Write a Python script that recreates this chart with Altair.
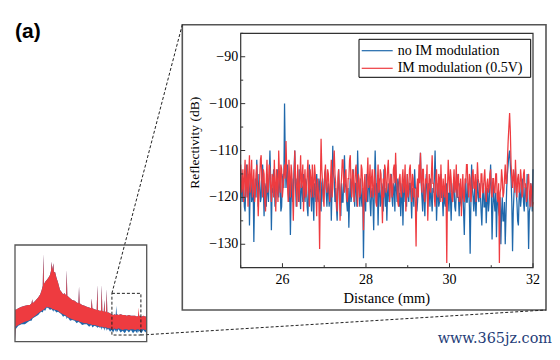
import altair as alt
import pandas as pd

# ---------------- data ----------------
DIST_START = 25.0
DIST_STEP = 0.0175

no_im = [
    -114, -118, -121, -116, -117, -122, -123, -117, -113, -120, -119, -115, -126, -118, -115, -121, -120, -117, -129.5, -119,
    -116, -120, -112, -117, -122, -115, -117, -121, -120, -114, -113, -118, -124, -117, -118, -122, -115, -119, -121, -116,
    -110, -116, -127, -118, -119, -114, -116, -122, -121, -117, -114, -119, -120, -115, -117, -123, -122, -116, -115, -118,
    -100, -112, -118, -115, -113, -119, -121, -117, -128, -120, -116, -121, -119, -114, -110, -117, -122, -116, -117, -121,
    -114, -119, -122.5, -117, -118, -121, -115, -119, -121, -116, -117, -122, -124, -118, -113, -118, -119, -123, -116, -120,
    -125, -117, -118, -121, -115, -120, -121, -116, -117, -122, -123, -117, -116, -121, -119, -115, -114, -119, -122, -118,
    -117, -122, -120, -117, -125, -118, -109, -115, -116, -121, -118, -122, -125, -119, -114, -118, -120, -124, -117, -121,
    -121, -116, -111, -117, -118, -121, -123, -118, -126.5, -120, -116, -121, -119, -116, -114, -119, -122, -117, -117, -122,
    -110, -116, -119, -122, -116, -120, -122, -118, -133, -121, -118, -123, -115, -120, -121, -116, -117, -121, -124, -119,
    -118, -121, -127, -117, -110, -116, -120, -117, -126, -119, -116, -122, -121, -117, -118, -123, -114, -119, -122, -118,
    -125, -119, -117, -121, -120, -116, -115, -120, -122, -117, -118, -123, -113, -118, -121, -116, -117, -122, -119, -124,
    -120, -117, -126, -119, -116, -121, -118, -122, -115, -119, -121, -117, -117, -120, -124.5, -118, -119, -122, -114, -118,
    -118, -123, -121, -117, -116, -114, -110.5, -117, -120, -123, -117, -120, -124, -118, -115, -119, -122, -117, -118, -122,
    -116, -120, -123, -118, -119, -116, -110, -117, -125, -120, -117, -122, -121, -117, -115, -120, -120, -124, -118, -121,
    -122, -118, -117, -121, -119, -123, -116, -120, -125, -119, -121, -117, -118, -122, -123, -119, -115, -120, -120, -124,
    -117, -121, -122, -118, -119, -123, -128, -120, -116, -121, -121, -117, -118, -122, -132, -121, -113, -118, -120, -123,
    -118, -121, -124, -119, -116, -120, -121, -117, -119, -123, -126, -120, -117, -122, -122, -118, -125.5, -121, -118, -123,
    -121, -117, -113, -119, -129, -122, -117, -121, -123, -119, -128.5, -121, -119, -123, -124, -120, -130, -123, -120, -125,
    -125, -121, -130, -124, -118, -115, -113, -111, -110, -113, -116, -121, -131.5, -123, -119, -116, -114, -119, -121, -125,
    -126, -120, -117, -122, -120, -117, -116, -121, -123, -118, -118, -122, -115, -121, -131, -123, -122, -117, -119, -123,
    -114,
]

im_05v = [
    -113, -119, -118, -114, -121, -116, -112, -120, -117, -113, -122, -115, -111, -119, -116, -112, -120, -117, -114, -121,
    -119, -115, -113, -118, -124, -119, -116, -112, -111, -117, -120, -114, -115, -121, -123, -116, -112, -119, -118, -113,
    -114, -118, -121, -115, -116, -120, -112, -117, -123, -114, -117, -121, -110, -115, -119, -113, -114, -120, -118, -115,
    -113, -116, -108, -114, -117, -121, -112, -116, -120, -113, -115, -119, -125, -117, -110, -115, -118, -122, -113, -117,
    -121, -116, -111, -118, -116, -113, -123, -117, -114, -120, -119, -115, -112, -118, -122, -114, -116, -120, -113, -117,
    -120, -113, -115, -119, -124, -116, -118, -121, -131, -117, -107.5, -114, -117, -120, -122, -115, -113, -118, -119, -114,
    -115, -119, -121, -116, -112, -120, -118, -113, -110, -115, -117, -121, -123, -116, -114, -119, -125, -118, -116, -112,
    -112, -117, -119, -115, -114, -120, -121, -116, -116, -112, -111, -118, -120, -114, -115, -121, -118, -114, -113, -119,
    -122, -115, -116, -120, -119, -113, -114, -118, -127, -117, -115, -120, -121, -116, -111.5, -118, -117, -113, -120, -116,
    -114, -120, -119, -114, -116, -121, -122, -117, -113, -119, -118, -114, -115, -120, -125.5, -116, -120, -113, -114, -119,
    -118, -114, -112, -117, -121, -115, -116, -120, -119, -114, -113, -117, -110.5, -116, -118, -121, -122, -116, -115, -119,
    -120, -116, -114, -119, -117, -113, -123, -118, -115, -120, -119, -114, -113, -117, -121, -115, -116, -120, -118, -121,
    -130.5, -118, -116, -120, -113, -117, -110.5, -116, -119, -114, -114, -120, -121, -116, -117, -113, -125, -119, -115, -118,
    -119, -115, -111, -117, -117, -120, -122, -116, -114, -119, -120, -115, -116, -121, -113, -118, -121, -116, -118, -120,
    -115, -119, -134, -118, -112, -116, -119, -114, -116, -120, -121, -117, -114, -119, -118, -113, -120, -116, -115, -121,
    -119, -116, -124, -118, -115, -120, -121, -116, -117, -113, -113, -118, -120, -115, -116, -121, -119, -115, -114, -118,
    -118, -115, -121, -117, -112.5, -116, -117, -120, -120, -115, -115, -119, -119, -116, -114, -118, -121, -117, -116, -119,
    -118, -115, -114, -119, -120, -116, -116, -119, -119, -115, -115, -120, -121, -117, -134, -119, -118, -114, -116, -120,
    -119, -116, -113, -117, -117, -112, -108, -105, -102, -106, -113, -116, -118, -114, -116, -119, -112, -117, -120, -116,
    -115, -119, -118, -114, -116, -120, -119, -115, -114, -118, -117, -121, -120, -116, -115, -119, -122, -117, -118, -122,
    -121,
]

series_names = ["no IM modulation", "IM modulation (0.5V)"]
series_colors = ["#1f68ab", "#ee3b40"]

x_major = [26, 28, 30, 32]
x_minor = [25, 27, 29, 31]
y_major = [-90, -100, -110, -120, -130]
y_minor = [-85, -95, -105, -115, -125, -135]
x_title = "Distance (mm)"
y_title = "Reflectivity (dB)"

# overview (full trace) envelopes
ov_x = [1.6, 1.75, 2.4, 3.2, 4.0, 4.8, 5.2, 5.6, 5.75, 5.9, 6.5, 7.2, 7.7, 8.05, 8.3, 8.44, 8.58,
        8.9, 9.26, 9.7, 10.05, 10.3, 10.46, 10.62, 10.85, 11.0, 11.26, 11.6, 11.99, 12.47,
        12.8, 13.2, 13.6, 13.95, 14.09, 14.23, 14.5, 14.9, 15.4, 16.0, 16.5, 16.92, 17.06,
        17.2, 17.8, 18.4, 18.92, 19.5, 19.98, 20.13, 20.28, 20.8, 21.33, 21.48, 21.62, 22.0,
        22.4, 22.54, 22.68, 23.03, 23.17, 23.31, 23.61, 23.75, 23.89, 24.2, 24.55, 24.9,
        25.3, 25.7, 25.91, 26.05, 26.19, 26.6, 27.1, 27.6, 28.1, 28.6, 29.1, 29.6, 30.1,
        30.6, 31.1, 31.31, 31.45, 31.59, 32.1, 32.6, 33.1, 33.3]
ov_red_hi = [-104, -105, -103, -101, -100, -99, -99, -97, -92, -97, -94, -90, -86, -81, -76, -38, -74,
             -71, -69, -66, -63, -58, -47, -57, -49, -60, -59, -66, -72, -81,
             -83, -86, -85, -88, -57, -88, -89, -91, -93, -94, -96, -97, -77,
             -97, -99, -100, -101, -102, -103, -91, -103, -104, -105, -75, -105, -106,
             -106, -75, -106, -107, -93, -107, -107, -80, -108, -108, -109, -110,
             -111, -110, -111, -111, -110, -111, -110, -111, -111, -112, -111, -112, -112,
             -112, -113, -112, -102, -112, -113, -112, -113, -112]
ov_red_lo = [-141, -125, -123, -121, -119, -118, -117, -115, -115, -114, -112, -109, -107, -106, -105, -105, -104,
             -103, -101, -102, -102, -103, -103, -104, -104, -104, -105, -105, -106, -108,
             -109, -110, -111, -112, -113, -113, -114, -115, -116, -117, -118, -118, -119,
             -119, -120, -121, -121, -122, -122, -123, -123, -123, -124, -124, -124, -125,
             -125, -125, -125, -126, -126, -126, -126, -126, -127, -127, -127, -128,
             -128, -127, -128, -128, -128, -127, -128, -129, -128, -128, -129, -128, -128,
             -129, -128, -128, -128, -129, -128, -128, -129, -128]
ov_blue_hi = [-104, -105, -103, -101, -100, -99, -99, -97, -92, -97, -94, -90, -86, -81, -76, -38, -74,
              -71, -69, -66, -63, -58, -47, -57, -49, -60, -59, -66, -72, -81,
              -83, -86, -85, -88, -57, -88, -89, -91, -93, -94, -96, -97, -77,
              -97, -99, -100, -101, -102, -103, -91, -103, -104, -105, -75, -105, -106,
              -106, -75, -106, -107, -93, -107, -107, -80, -108, -108, -109, -110,
              -111, -110, -111, -100, -110, -111, -110, -111, -111, -112, -111, -112, -112,
              -112, -113, -112, -109, -112, -113, -112, -113, -112]
ov_blue_lo = [-141, -128, -124, -122, -122, -119, -118, -118, -116, -115, -113, -111, -108, -107, -108, -106, -105,
              -106, -102, -103, -105, -104, -104, -105, -107, -105, -106, -108, -107, -109,
              -110, -113, -112, -113, -116, -114, -115, -118, -117, -118, -121, -119, -120,
              -120, -123, -122, -122, -125, -123, -124, -126, -124, -125, -127, -125, -126,
              -126, -129, -126, -127, -130, -127, -127, -130, -128, -128, -131, -129,
              -132, -128, -131, -129, -132, -128, -132, -130, -133, -129, -132, -129, -133,
              -130, -133, -129, -132, -130, -133, -129, -132, -130]

# ---------------- layout ----------------
W, H = 544, 344
SERIF = "Liberation Serif"

MX0, MX1 = 232.7, 525.0      # main plot x range (px)
MY0, MY1 = 259.7, 25.3       # main plot y range (px, bottom/top)
OX0, OX1 = 7.0, 138.7        # overview x range
OY0, OY1 = 333.7, 237.0      # overview y range
PANEL = (174.3, 16.7, 538.0, 302.0)
MAIN_DOM_X = [25, 32]
MAIN_DOM_Y = [-135, -85]
OV_DOM_X = [1.6, 33.4]
OV_DOM_Y = [-143, -27]

mx = alt.Scale(domain=MAIN_DOM_X, range=[MX0, MX1], nice=False, zero=False)
my = alt.Scale(domain=MAIN_DOM_Y, range=[MY0, MY1], nice=False, zero=False)
ox = alt.Scale(domain=OV_DOM_X, range=[OX0, OX1], nice=False, zero=False)
oy = alt.Scale(domain=OV_DOM_Y, range=[OY0, OY1], nice=False, zero=False)


def ov_px(v):
    return OX0 + (v - OV_DOM_X[0]) / (OV_DOM_X[1] - OV_DOM_X[0]) * (OX1 - OX0)


def ov_py(v):
    return OY0 + (v - OV_DOM_Y[0]) / (OV_DOM_Y[1] - OV_DOM_Y[0]) * (OY1 - OY0)


def fmt(v):
    return ("\u2212" if v < 0 else "") + str(abs(int(v)))


distance = [round(DIST_START + i * DIST_STEP, 4) for i in range(len(no_im))]
df_blue = pd.DataFrame({"distance": distance, "db": no_im})
df_red = pd.DataFrame({"distance": distance, "db": im_05v})
one = pd.DataFrame({"k": [0]})

# ---------------- main plot ----------------
blue_line = alt.Chart(df_blue).mark_line(color=series_colors[0], strokeWidth=1.25, clip=True).encode(
    x=alt.X("distance:Q", scale=mx, axis=None),
    y=alt.Y("db:Q", scale=my, axis=None),
)
red_line = alt.Chart(df_red).mark_line(color=series_colors[1], strokeWidth=1.25, clip=True).encode(
    x=alt.X("distance:Q", scale=mx, axis=None),
    y=alt.Y("db:Q", scale=my, axis=None),
)
frame_df = pd.DataFrame({"x0": [MAIN_DOM_X[0]], "x1": [MAIN_DOM_X[1]],
                         "y0": [MAIN_DOM_Y[0]], "y1": [MAIN_DOM_Y[1]]})
main_frame = alt.Chart(frame_df).mark_rect(fillOpacity=0, stroke="#333333", strokeWidth=1.2).encode(
    x=alt.X("x0:Q", scale=mx, axis=None), x2="x1:Q",
    y=alt.Y("y0:Q", scale=my, axis=None), y2="y1:Q",
)
xt_major = alt.Chart(pd.DataFrame({"t": x_major})).mark_rule(color="#333333", strokeWidth=1).encode(
    x=alt.X("t:Q", scale=mx, axis=None), y=alt.value(MY0), y2=alt.value(MY0 - 4.5))
xt_minor = alt.Chart(pd.DataFrame({"t": x_minor})).mark_rule(color="#333333", strokeWidth=1).encode(
    x=alt.X("t:Q", scale=mx, axis=None), y=alt.value(MY0), y2=alt.value(MY0 - 2.5))
yt_major = alt.Chart(pd.DataFrame({"t": y_major})).mark_rule(color="#333333", strokeWidth=1).encode(
    y=alt.Y("t:Q", scale=my, axis=None), x=alt.value(MX0), x2=alt.value(MX0 + 4.5))
yt_minor = alt.Chart(pd.DataFrame({"t": y_minor})).mark_rule(color="#333333", strokeWidth=1).encode(
    y=alt.Y("t:Q", scale=my, axis=None), x=alt.value(MX0), x2=alt.value(MX0 + 2.5))

xl = alt.Chart(pd.DataFrame({"t": x_major, "lab": [fmt(v) for v in x_major]})).mark_text(
    align="center", baseline="top", font=SERIF, fontSize=14, color="black").encode(
    x=alt.X("t:Q", scale=mx, axis=None), y=alt.value(MY0 + 5.5), text="lab:N")
yl = alt.Chart(pd.DataFrame({"t": y_major, "lab": [fmt(v) for v in y_major]})).mark_text(
    align="right", baseline="middle", font=SERIF, fontSize=14, color="black").encode(
    y=alt.Y("t:Q", scale=my, axis=None), x=alt.value(MX0 - 2.5), text="lab:N")
xtitle = alt.Chart(one).mark_text(align="center", baseline="top", font=SERIF, fontSize=14.5,
                                  color="black").encode(
    x=alt.value((MX0 + MX1) / 2), y=alt.value(284), text=alt.value(x_title))
ytitle = alt.Chart(one).mark_text(align="center", baseline="middle", font=SERIF, fontSize=13.5,
                                  color="black", angle=270).encode(
    x=alt.value(187), y=alt.value(134.8), text=alt.value(y_title))

main = alt.layer(blue_line, red_line, xt_major, xt_minor, yt_major, yt_minor, main_frame, xl, yl)

# ---------------- overview ----------------
df_ov = pd.DataFrame({"x": ov_x, "rhi": ov_red_hi, "rlo": ov_red_lo,
                      "bhi": ov_blue_hi, "blo": ov_blue_lo})
ov_blue = alt.Chart(df_ov).mark_area(color=series_colors[0], opacity=1).encode(
    x=alt.X("x:Q", scale=ox, axis=None),
    y=alt.Y("bhi:Q", scale=oy, axis=None), y2="blo:Q")
ov_red = alt.Chart(df_ov).mark_area(color=series_colors[1], opacity=1).encode(
    x=alt.X("x:Q", scale=ox, axis=None),
    y=alt.Y("rhi:Q", scale=oy, axis=None), y2="rlo:Q")
ov_box_df = pd.DataFrame({"x0": [OV_DOM_X[0]], "x1": [OV_DOM_X[1]],
                          "y0": [OV_DOM_Y[0]], "y1": [OV_DOM_Y[1]]})
ov_box = alt.Chart(ov_box_df).mark_rect(fillOpacity=0, stroke="#555555", strokeWidth=1.3).encode(
    x=alt.X("x0:Q", scale=ox, axis=None), x2="x1:Q",
    y=alt.Y("y0:Q", scale=oy, axis=None), y2="y1:Q")
zoom_box = alt.Chart(frame_df).mark_rect(fillOpacity=0, stroke="#222222", strokeWidth=1,
                                         strokeDash=[3, 2]).encode(
    x=alt.X("x0:Q", scale=ox, axis=None), x2="x1:Q",
    y=alt.Y("y0:Q", scale=oy, axis=None), y2="y1:Q")
overview = alt.layer(ov_blue, ov_red, ov_box, zoom_box)

# ---------------- decorations ----------------
panel = alt.Chart(one).mark_rect(fillOpacity=0, stroke="#555555", strokeWidth=1.6).encode(
    x=alt.value(PANEL[0]), x2=alt.value(PANEL[2]), y=alt.value(PANEL[1]), y2=alt.value(PANEL[3]))
conn1 = alt.Chart(one).mark_rule(color="#222222", strokeWidth=1, strokeDash=[3, 2]).encode(
    x=alt.value(ov_px(MAIN_DOM_X[0])), y=alt.value(ov_py(MAIN_DOM_Y[1])),
    x2=alt.value(PANEL[0]), y2=alt.value(PANEL[1]))
conn2 = alt.Chart(one).mark_rule(color="#222222", strokeWidth=1, strokeDash=[3, 2]).encode(
    x=alt.value(ov_px(MAIN_DOM_X[1])), y=alt.value(ov_py(MAIN_DOM_Y[0])),
    x2=alt.value(PANEL[2]), y2=alt.value(PANEL[3]))

LG = (351.0, 31.3, 522.7, 69.3)
leg_df = pd.DataFrame({"name": series_names, "color": series_colors, "py": [42.7, 60.3]})
leg_box = alt.Chart(one).mark_rect(fill="white", stroke="black", strokeWidth=1).encode(
    x=alt.value(LG[0]), x2=alt.value(LG[2]), y=alt.value(LG[1]), y2=alt.value(LG[3]))
leg_lines = alt.Chart(leg_df).mark_rule(strokeWidth=1.2).encode(
    x=alt.value(353.7), x2=alt.value(384.7),
    y=alt.Y("py:Q", scale=None), color=alt.Color("color:N", scale=None, legend=None))
leg_text = alt.Chart(leg_df).mark_text(align="left", baseline="middle", font=SERIF,
                                       fontSize=14, color="black").encode(
    x=alt.value(389.7), y=alt.Y("py:Q", scale=None), text="name:N")

label_a = alt.Chart(one).mark_text(align="left", baseline="alphabetic", font="Liberation Sans",
                                   fontWeight="bold", fontSize=21, color="black").encode(
    x=alt.value(7), y=alt.value(29.5), text=alt.value("(a)"))
watermark = alt.Chart(one).mark_text(align="right", baseline="alphabetic", font="DejaVu Serif",
                                     fontSize=14.4, color="#253d78").encode(
    x=alt.value(544), y=alt.value(335), text=alt.value("www.365jz.com"))

chart = alt.layer(
    main, panel, conn1, conn2, overview, leg_box, leg_lines, leg_text, xtitle, ytitle,
    label_a, watermark
).resolve_scale(x="independent", y="independent").properties(
    width=W, height=H, autosize=alt.AutoSizeParams(type="none"), padding=0,
    background="white"
).configure_view(stroke=None)

chart.save("out.html", embed_options={"renderer": "svg", "actions": False})
